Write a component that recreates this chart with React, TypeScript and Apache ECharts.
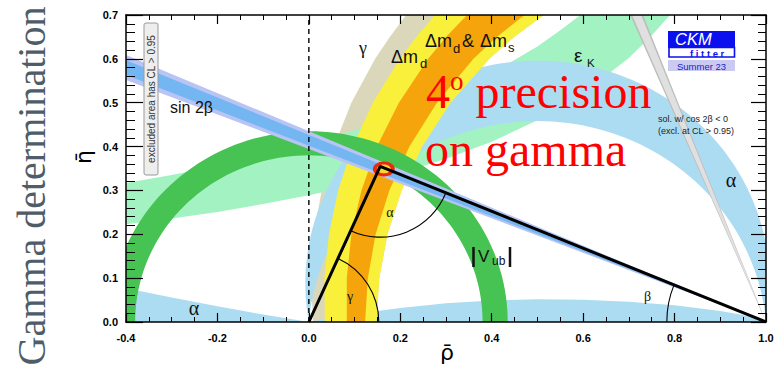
import React, { useEffect, useRef } from "react";
import * as echarts from "echarts";

// ---- axis ranges / ticks ----
const X_RANGE = [-0.4, 1.0];
const X_STEP = 0.2;
const Y_RANGE = [0.0, 0.7];
const Y_STEP = 0.1;

// ---- constraint regions (rho, eta) ----
const APEX = [0.156, 0.355];
const FIT_CENTER = [0.164, 0.349];
const FIT_95_HALF = [0.024, 0.017];
const FIT_68_HALF = [0.015, 0.01];

const SIN2B_95 = [[1.0, 0.0], [-0.4, 0.609], [-0.4, 0.552]];
const SIN2B_68 = [[1.0, 0.0], [-0.4, 0.597], [-0.4, 0.563]];
const COS2B_NEG_95 = [[1.0, 0.0], [0.703, 0.7], [0.731, 0.7]];
const COS2B_NEG_68 = [[1.0, 0.0], [0.707, 0.7], [0.727, 0.7]];

const VUB_RADII = [0.38, 0.435];
const ALPHA_BOUNDS_DEG = [80, 95];
const ALPHA_LOW_LEFT = [[-0.4, 0], [-0.4, 0.077], [-0.3, 0.056], [-0.2, 0.036], [-0.1, 0.017], [0, 0]];
const ALPHA_LOW_RIGHT = [[0, 0], [0.05, 0.009], [0.1, 0.018], [0.2, 0.032], [0.3, 0.043], [0.4, 0.049], [0.5, 0.052], [0.6, 0.051], [0.7, 0.046], [0.8, 0.038], [0.9, 0.025], [0.95, 0.016], [1.0, 0]];

const EPSK_UPPER = [[-0.4, 0.317], [-0.3, 0.335], [-0.2, 0.356], [-0.1, 0.38], [0, 0.406], [0.1, 0.437], [0.2, 0.473], [0.3, 0.516], [0.4, 0.567], [0.5, 0.628], [0.55, 0.665], [0.594, 0.7]];
const EPSK_LOWER = [[-0.4, 0.223], [-0.3, 0.236], [-0.2, 0.251], [-0.1, 0.269], [0, 0.289], [0.1, 0.312], [0.2, 0.339], [0.3, 0.372], [0.4, 0.411], [0.5, 0.46], [0.6, 0.521], [0.7, 0.602], [0.75, 0.653], [0.79, 0.7]];

const DMD_BEIGE_LEFT = [[0.009, 0], [0.005, 0.1], [0.011, 0.2], [0.028, 0.3], [0.055, 0.4], [0.093, 0.5], [0.145, 0.6], [0.177, 0.65], [0.213, 0.7]];
const DMD_YELLOW_LEFT = [[0.035, 0], [0.034, 0.1], [0.044, 0.2], [0.064, 0.3], [0.096, 0.4], [0.14, 0.5], [0.199, 0.6], [0.235, 0.65], [0.276, 0.7]];
const DMD_YELLOW_RIGHT = [[0.148, 0], [0.154, 0.1], [0.172, 0.2], [0.203, 0.3], [0.248, 0.4], [0.31, 0.5], [0.395, 0.6], [0.449, 0.65], [0.514, 0.7]];
const DMD_ORANGE_LEFT = [[0.083, 0], [0.083, 0.1], [0.093, 0.2], [0.115, 0.3], [0.149, 0.4], [0.197, 0.5], [0.261, 0.6], [0.3, 0.65], [0.346, 0.7]];
const DMD_ORANGE_RIGHT = [[0.123, 0], [0.129, 0.1], [0.146, 0.2], [0.176, 0.3], [0.22, 0.4], [0.28, 0.5], [0.36, 0.6], [0.411, 0.65], [0.472, 0.7]];

// angle-arc radii (data units along rho): gamma, alpha, beta
const ANGLE_RADII = [0.153, 0.155, 0.217];

// ---- helpers ----
const band = (left: number[][], right: number[][]) => [...left, ...right.slice().reverse()];

function arcPts(cx: number, cy: number, r: number, a0: number, a1: number, n = 90) {
  const pts: number[][] = [];
  for (let i = 0; i <= n; i++) {
    const a = ((a0 + ((a1 - a0) * i) / n) * Math.PI) / 180;
    pts.push([cx + r * Math.cos(a), cy + r * Math.sin(a)]);
  }
  return pts;
}

function alphaArc(alphaDeg: number, reverse: boolean) {
  const a = (alphaDeg * Math.PI) / 180;
  const cy = 0.5 / Math.tan(a);
  const r = 0.5 / Math.sin(a);
  const s = alphaDeg - 90;
  const e = 270 - alphaDeg;
  return reverse ? arcPts(0.5, cy, r, e, s) : arcPts(0.5, cy, r, s, e);
}

type Poly = { pts: number[][]; fill: string; stroke?: string; lw?: number };

function shapeSeries(polys: Poly[], z: number) {
  return {
    type: "custom",
    coordinateSystem: "cartesian2d",
    xAxisIndex: 0,
    yAxisIndex: 0,
    clip: true,
    silent: true,
    z,
    data: [[0.3, 0.3]],
    renderItem: (_p: any, api: any) => ({
      type: "group",
      children: polys.map((p) => ({
        type: "polygon",
        shape: { points: p.pts.map((q) => api.coord(q)) },
        style: { fill: p.fill, stroke: p.stroke || "none", lineWidth: p.lw || 0 },
      })),
    }),
  };
}

const SANS = '"Liberation Sans", Arial, sans-serif';
const SERIF = '"Liberation Serif", "Times New Roman", serif';

function T(text: string, x: number, y: number, size: number, o: any = {}) {
  return {
    type: "text",
    x,
    y,
    z: 100,
    rotation: o.rotation || 0,
    style: {
      text,
      fontSize: size,
      lineHeight: o.lineHeight || size,
      fontFamily: o.family || SANS,
      fontWeight: o.weight || "normal",
      fontStyle: o.style || "normal",
      fill: o.fill || "#111",
      textAlign: o.align || "left",
      textVerticalAlign: "middle",
    },
  };
}

export default function App() {
  const ref = useRef<HTMLDivElement>(null);

  useEffect(() => {
    if (!ref.current) return;
    const chart = echarts.init(ref.current, undefined, { renderer: "svg" });

    const fmt = (v: number) => (Math.abs(v) < 1e-9 ? "0.0" : v.toFixed(1));
    const tickFont = { fontFamily: SANS, fontWeight: "bold", fontSize: 11, color: "#000" };

    const vubPts = [
      ...arcPts(0, 0, VUB_RADII[1], 0, 180),
      ...arcPts(0, 0, VUB_RADII[0], 180, 0),
    ];
    const alphaCrescent = [...alphaArc(ALPHA_BOUNDS_DEG[0], false), ...alphaArc(ALPHA_BOUNDS_DEG[1], true)];
    const epsK = [...EPSK_UPPER, ...EPSK_LOWER.slice().reverse()];

    const series: any[] = [
      shapeSeries([{ pts: band(DMD_BEIGE_LEFT, DMD_YELLOW_RIGHT), fill: "#dbd7bb" }], 2),
      shapeSeries([{ pts: epsK, fill: "#a2f2c2" }], 3),
      shapeSeries(
        [
          { pts: alphaCrescent, fill: "#acdcf2" },
          { pts: ALPHA_LOW_LEFT, fill: "#acdcf2" },
          { pts: ALPHA_LOW_RIGHT, fill: "#acdcf2" },
        ],
        4
      ),
      shapeSeries([{ pts: band(DMD_YELLOW_LEFT, DMD_YELLOW_RIGHT), fill: "#f8f03a" }], 5),
      shapeSeries([{ pts: band(DMD_ORANGE_LEFT, DMD_ORANGE_RIGHT), fill: "#f5a40c" }], 6),
      shapeSeries([{ pts: vubPts, fill: "#46c352" }], 7),
      shapeSeries(
        [
          { pts: SIN2B_95, fill: "#b8c4f4" },
          { pts: SIN2B_68, fill: "#74b6f2" },
        ],
        8
      ),
      shapeSeries(
        [
          { pts: COS2B_NEG_95, fill: "#bdbdbd" },
          { pts: COS2B_NEG_68, fill: "#e0e0e0" },
        ],
        9
      ),
      {
        type: "line",
        data: [[0, Y_RANGE[0]], [0, Y_RANGE[1]]],
        symbol: "none",
        lineStyle: { color: "#000", width: 1.4, type: [5, 4] },
        z: 10,
        silent: true,
      },
      {
        type: "custom",
        coordinateSystem: "cartesian2d",
        clip: true,
        silent: true,
        z: 11,
        data: [[0.3, 0.3]],
        renderItem: (_p: any, api: any) => {
          const o = api.coord([0, 0]);
          const a = api.coord(APEX);
          const b = api.coord([1, 0]);
          const ang = (p: number[], q: number[]) => Math.atan2(q[1] - p[1], q[0] - p[0]);
          const st = { stroke: "#000", fill: "none", lineWidth: 1.1 };
          const rg = api.size([ANGLE_RADII[0], 0])[0];
          const ra = api.size([ANGLE_RADII[1], 0])[0];
          const rb = api.size([ANGLE_RADII[2], 0])[0];
          const c = api.coord(FIT_CENTER);
          const s95 = api.size(FIT_95_HALF);
          const s68 = api.size(FIT_68_HALF);
          return {
            type: "group",
            children: [
              { type: "arc", shape: { cx: o[0], cy: o[1], r: rg, startAngle: ang(o, a), endAngle: 0, clockwise: true }, style: st },
              { type: "arc", shape: { cx: a[0], cy: a[1], r: ra, startAngle: ang(a, b), endAngle: ang(a, o), clockwise: true }, style: st },
              { type: "arc", shape: { cx: b[0], cy: b[1], r: rb, startAngle: Math.PI, endAngle: ang(b, a) + 2 * Math.PI, clockwise: true }, style: st },
              { type: "ellipse", shape: { cx: c[0], cy: c[1], rx: s95[0], ry: s95[1] }, style: { fill: "#ea2a10" } },
              { type: "ellipse", shape: { cx: c[0], cy: c[1], rx: s68[0], ry: s68[1] }, style: { fill: "#ffd62e" } },
            ],
          };
        },
      },
      {
        type: "line",
        data: [[0, 0], APEX, [1, 0]],
        symbol: "none",
        lineStyle: { color: "#000", width: 3 },
        z: 12,
        silent: true,
      },
    ];

    const graphic: any[] = [
      // big rotated title
      T("Gamma determination", 31, 186, 40, { family: SERIF, fill: "#4e5d68", align: "center", rotation: Math.PI / 2 }),
      // axis names
      T("η̄", 83, 157, 22, { family: '"DejaVu Sans", sans-serif', align: "center", rotation: Math.PI / 2, fill: "#000" }),
      T("ρ̄", 447, 352, 22, { family: '"DejaVu Sans", sans-serif', align: "center", fill: "#000" }),
      // excluded area box
      { type: "rect", z: 99, shape: { x: 144, y: 23, width: 14, height: 152, r: 2 }, style: { fill: "#eeeeee", stroke: "#9a9a9a", lineWidth: 1 } },
      T("excluded area has CL > 0.95", 151.5, 99, 10, { align: "center", rotation: Math.PI / 2, fill: "#333" }),
      // constraint labels
      T("sin 2β", 170, 107, 16),
      T("Δm", 425, 41, 18),
      T("d", 453, 48, 13),
      T("&", 462, 41, 18),
      T("Δm", 480, 41, 18),
      T("s", 508, 47, 13),
      T("Δm", 391, 57, 18),
      T("d", 420, 63.5, 13),
      T("ε", 574, 55.5, 19),
      T("K", 587, 62.5, 11.5),
      T("V", 478, 256, 17),
      T("ub", 492, 261, 12),
      { type: "line", z: 100, shape: { x1: 473.5, y1: 247, x2: 473.5, y2: 267 }, style: { stroke: "#111", lineWidth: 2.5 } },
      { type: "line", z: 100, shape: { x1: 510, y1: 247, x2: 510, y2: 267 }, style: { stroke: "#111", lineWidth: 2.5 } },
      T("γ", 363, 48, 18, { family: SERIF, align: "center" }),
      T("α", 194, 308, 20, { family: SERIF, align: "center" }),
      T("α", 731, 180, 20, { family: SERIF, align: "center" }),
      T("γ", 350, 296, 14, { family: SERIF, align: "center" }),
      T("α", 390, 212, 14, { family: SERIF, align: "center" }),
      T("β", 647.5, 296, 14, { family: SERIF, align: "center" }),
      T("sol. w/ cos 2β < 0", 658, 119, 9, { fill: "#222" }),
      T("(excl. at CL > 0.95)", 658, 131, 9, { fill: "#222" }),
      // CKMfitter logo
      { type: "rect", z: 99, shape: { x: 668, y: 31, width: 67, height: 17 }, style: { fill: "#0c10ee" } },
      T("CKM", 675, 39, 16.5, { fill: "#ffffff", style: "italic" }),
      { type: "rect", z: 99, shape: { x: 669, y: 47.5, width: 65.5, height: 9.5 }, style: { fill: "#ffffff", stroke: "#0c10ee", lineWidth: 1.6 } },
      T("f i t t e r", 690, 53, 9.5, { fill: "#0c10ee", weight: "bold" }),
      { type: "rect", z: 99, shape: { x: 668, y: 60, width: 67, height: 11 }, style: { fill: "#cbcbf2" } },
      T("Summer 23", 701.5, 66, 9.5, { fill: "#1e22c8", align: "center" }),
      // red annotation
      {
        type: "text",
        x: 426,
        y: 91,
        z: 101,
        style: {
          text: "4{s|o} precision",
          fontSize: 48,
          fontFamily: SERIF,
          fill: "#ff0000",
          textVerticalAlign: "middle",
          rich: { s: { fontSize: 27, fontFamily: SERIF, fill: "#ff0000", verticalAlign: "top" } },
        },
      },
      T("on gamma", 425, 149, 48, { family: SERIF, fill: "#ff0000", lineHeight: 40 }),
    ];

    const option: any = {
      animation: false,
      backgroundColor: "#ffffff",
      grid: { left: 126, right: 12, top: 15, bottom: 49, containLabel: false },
      xAxis: [
        {
          type: "value",
          min: X_RANGE[0],
          max: X_RANGE[1],
          interval: X_STEP,
          position: "bottom",
          z: 50,
          axisLine: { show: true, onZero: false, lineStyle: { color: "#000", width: 1.5 } },
          axisTick: { show: true, inside: true, length: 9, lineStyle: { color: "#000", width: 1.2 } },
          minorTick: { show: true, splitNumber: 4, length: 5, lineStyle: { color: "#000", width: 1 } },
          splitLine: { show: false },
          axisLabel: { ...tickFont, margin: 10, formatter: fmt },
        },
        {
          type: "value",
          min: X_RANGE[0],
          max: X_RANGE[1],
          interval: X_STEP,
          position: "top",
          z: 50,
          axisLine: { show: true, onZero: false, lineStyle: { color: "#000", width: 1.5 } },
          axisTick: { show: true, inside: true, length: 9, lineStyle: { color: "#000", width: 1.2 } },
          minorTick: { show: true, splitNumber: 4, length: 5, lineStyle: { color: "#000", width: 1 } },
          splitLine: { show: false },
          axisLabel: { show: false },
        },
      ],
      yAxis: [
        {
          type: "value",
          min: Y_RANGE[0],
          max: Y_RANGE[1],
          interval: Y_STEP,
          position: "left",
          z: 50,
          axisLine: { show: true, onZero: false, lineStyle: { color: "#000", width: 1.5 } },
          axisTick: { show: true, inside: true, length: 17, lineStyle: { color: "#000", width: 1.2 } },
          minorTick: { show: true, splitNumber: 5, length: 9, lineStyle: { color: "#000", width: 1 } },
          splitLine: { show: false },
          axisLabel: { ...tickFont, margin: 8, formatter: fmt },
        },
        {
          type: "value",
          min: Y_RANGE[0],
          max: Y_RANGE[1],
          interval: Y_STEP,
          position: "right",
          z: 50,
          axisLine: { show: true, onZero: false, lineStyle: { color: "#000", width: 1.5 } },
          axisTick: { show: true, inside: true, length: 15, lineStyle: { color: "#000", width: 1.2 } },
          minorTick: { show: true, splitNumber: 5, length: 8, lineStyle: { color: "#000", width: 1 } },
          splitLine: { show: false },
          axisLabel: { show: false },
        },
      ],
      series,
      graphic,
    };

    chart.setOption(option);
    return () => chart.dispose();
  }, []);

  return (
    <div
      ref={ref}
      style={{ position: "absolute", left: 0, top: 0, width: 778, height: 371, background: "#fff" }}
    />
  );
}
